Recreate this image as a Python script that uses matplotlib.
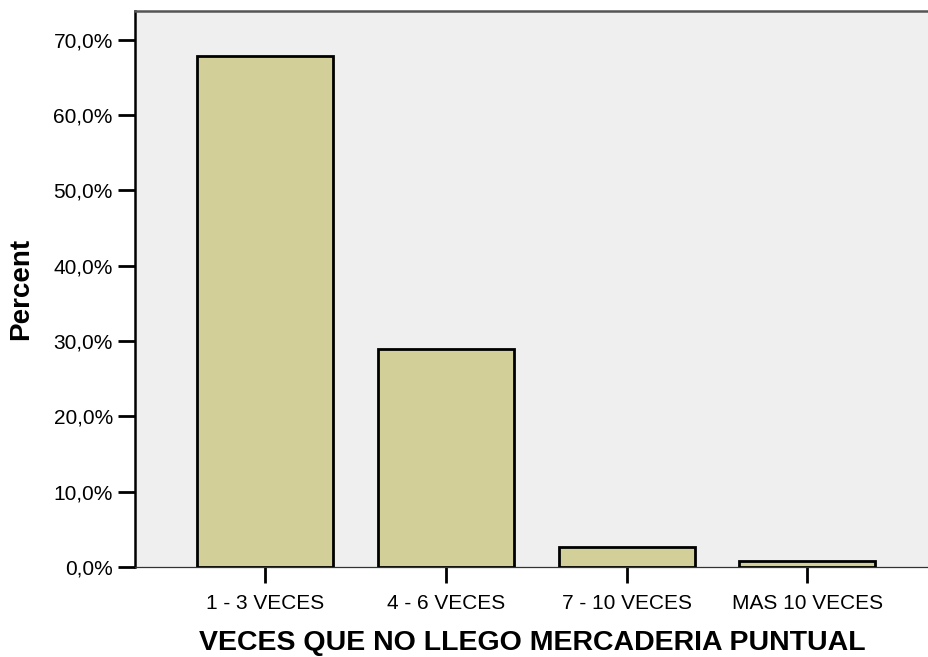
import matplotlib
matplotlib.use('Agg')
import matplotlib.pyplot as plt
from matplotlib.ticker import FuncFormatter

categories = ['1 - 3 VECES', '4 - 6 VECES', '7 - 10 VECES', 'MAS 10 VECES']
percents = [67.9, 29.0, 2.7, 0.8]
y_ticks = [0, 10, 20, 30, 40, 50, 60, 70]

plt.rcParams['font.family'] = ['Liberation Sans', 'DejaVu Sans']

fig = plt.figure(figsize=(9.29, 6.57), dpi=100, facecolor='white')
ax = fig.add_axes([0.1453, 0.137, 0.8547, 0.847])
ax.set_facecolor('#efefef')

pos = list(range(len(categories)))
ax.bar(pos, percents, width=0.752, color='#d3cf98', edgecolor='black', linewidth=2.0, zorder=3)

ax.set_xlim(-0.719, 3.673)
ax.set_ylim(0, 73.9)
ax.set_xticks(pos)
ax.set_xticklabels(categories, fontsize=15)
ax.set_yticks(y_ticks)
ax.yaxis.set_major_formatter(FuncFormatter(lambda v, p: ('%.1f%%' % v).replace('.', ',')))
ax.tick_params(axis='y', labelsize=15, length=12, width=2, pad=4)
ax.tick_params(axis='x', length=11.5, width=2, pad=8)

ax.spines['right'].set_visible(False)
ax.spines['top'].set_color('#555555')
ax.spines['top'].set_linewidth(1.8)
ax.spines['left'].set_color('black')
ax.spines['left'].set_linewidth(1.8)
ax.spines['bottom'].set_color('#333333')
ax.spines['bottom'].set_linewidth(0.9)

ax.set_xlabel('VECES QUE NO LLEGO MERCADERIA PUNTUAL', fontsize=20.5, fontweight='bold', labelpad=12)
ax.set_ylabel('Percent', fontsize=20, fontweight='bold', labelpad=14)

fig.savefig('out.png', dpi=100, facecolor='white')
